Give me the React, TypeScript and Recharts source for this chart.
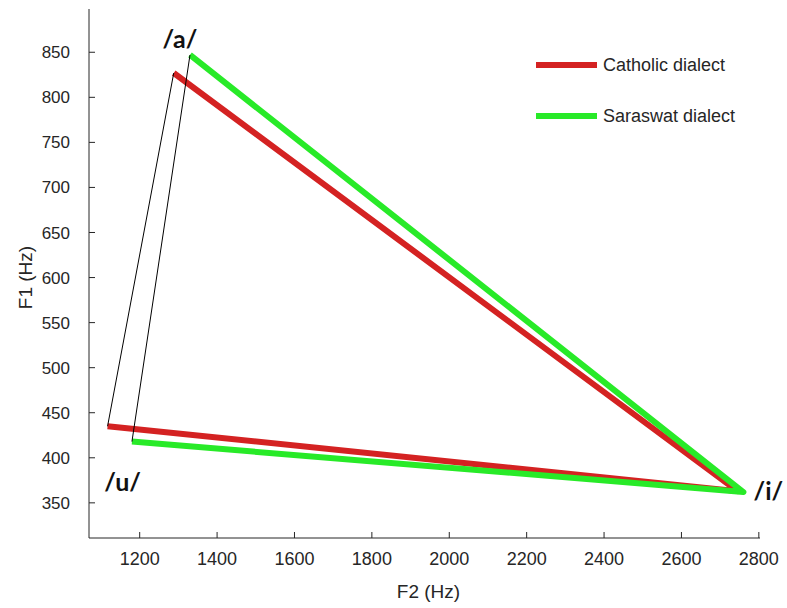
import React from 'react'
import { Label, Legend, Line, LineChart, ReferenceDot, XAxis, YAxis } from 'recharts'

const FONT = '"Liberation Sans", Arial, sans-serif'
const INK = '#262626'
const TICK_LEN = 6
const X_TICK_GAP = 14
const Y_TICK_GAP = 19

// corner vowels of the triangle, in drawing order
const vowels = ['/a/', '/i/', '/u/']

// formant means (Hz) per dialect, same order as vowels
const catholicF2 = [1288, 2745, 1117]
const catholicF1 = [827, 363, 435]
const saraswatF2 = [1330, 2760, 1180]
const saraswatF1 = [847, 362, 418]

const dialects = ['Catholic dialect', 'Saraswat dialect']
const dialectColors = ['#d42222', '#28ea28']

const f2Ticks = [1200, 1400, 1600, 1800, 2000, 2200, 2400, 2600, 2800]
const f1Ticks = [350, 400, 450, 500, 550, 600, 650, 700, 750, 800, 850]

const toPoints = (f2: number[], f1: number[], order: number[]) =>
  order.map((i) => ({ vowel: vowels[i], f2: f2[i], f1: f1[i] }))

// thick edges a -> i -> u, thin black edge u -> a closes the triangle
const catholicEdges = toPoints(catholicF2, catholicF1, [0, 1, 2])
const saraswatEdges = toPoints(saraswatF2, saraswatF1, [0, 1, 2])
const catholicClose = toPoints(catholicF2, catholicF1, [2, 0])
const saraswatClose = toPoints(saraswatF2, saraswatF1, [2, 0])

// matlab-style ticks: short marks pointing into the plot
const F2Tick = ({ x, y, payload }: any) => (
  <g>
    <line x1={x} x2={x} y1={y - X_TICK_GAP} y2={y - X_TICK_GAP - TICK_LEN} stroke={INK} />
    <text x={x} y={y} dy="0.71em" textAnchor="middle" fontFamily={FONT} fontSize={18} fill={INK}>
      {payload.value}
    </text>
  </g>
)

const F1Tick = ({ x, y, payload }: any) => (
  <g>
    <line x1={x + Y_TICK_GAP} x2={x + Y_TICK_GAP + TICK_LEN} y1={y} y2={y} stroke={INK} />
    <text x={x} y={y} dy="0.355em" textAnchor="end" fontFamily={FONT} fontSize={17} fill={INK}>
      {payload.value}
    </text>
  </g>
)

const DialectLegend = () => (
  <div style={{ fontFamily: FONT, fontSize: 18, color: INK }}>
    {dialects.map((name, i) => (
      <div
        key={name}
        style={{ display: 'flex', alignItems: 'center', height: 24, marginBottom: i === 0 ? 27 : 0 }}
      >
        <span style={{ display: 'inline-block', width: 61, height: 6, background: dialectColors[i], marginRight: 6 }} />
        {name}
      </div>
    ))}
  </div>
)

const vowelMark = (text: string, dx: number, dy: number) => (props: any) => {
  const { viewBox } = props
  const x = viewBox.x + viewBox.width / 2 + dx
  const y = viewBox.y + viewBox.height / 2 + dy
  return (
    <text
      x={x}
      y={y}
      textAnchor="middle"
      dominantBaseline="central"
      fontFamily="Lato, 'Open Sans', sans-serif"
      fontWeight={700}
      fontSize={25}
      fill="#111"
    >
      {text}
    </text>
  )
}

export default function App() {
  return (
    <div style={{ position: 'absolute', left: 0, top: 0, width: 787, height: 608, background: '#fff' }}>
      <LineChart width={787} height={608} margin={{ top: 9, right: 27, left: 0, bottom: 0 }}>
        <XAxis
          type="number"
          dataKey="f2"
          domain={[1069, 2803]}
          ticks={f2Ticks}
          allowDataOverflow
          height={70}
          tickSize={0}
          tickMargin={X_TICK_GAP}
          tickLine={false}
          stroke={INK}
          tick={<F2Tick />}
        >
          <Label
            content={({ viewBox }: any) => (
              <text
                x={viewBox.x + viewBox.width / 2 + 4}
                y={viewBox.y + 60}
                textAnchor="middle"
                fontFamily={FONT}
                fontSize={19}
                fill={INK}
              >
                F2 (Hz)
              </text>
            )}
          />
        </XAxis>
        <YAxis
          type="number"
          dataKey="f1"
          domain={[311, 898]}
          ticks={f1Ticks}
          allowDataOverflow
          width={89}
          tickSize={0}
          tickMargin={Y_TICK_GAP}
          tickLine={false}
          stroke={INK}
          tick={<F1Tick />}
        >
          <Label
            content={({ viewBox }: any) => {
              const cx = viewBox.x + 25
              const cy = viewBox.y + viewBox.height / 2 + 4
              return (
                <text
                  x={cx}
                  y={cy}
                  transform={`rotate(-90 ${cx} ${cy})`}
                  textAnchor="middle"
                  dominantBaseline="central"
                  fontFamily={FONT}
                  fontSize={19}
                  fill={INK}
                >
                  F1 (Hz)
                </text>
              )
            }}
          />
        </YAxis>
        <Legend
          layout="vertical"
          align="center"
          verticalAlign="middle"
          content={<DialectLegend />}
          wrapperStyle={{ position: 'absolute', left: 536, top: 53, width: 'auto' }}
        />
        <Line
          data={catholicEdges}
          dataKey="f1"
          name={dialects[0]}
          stroke={dialectColors[0]}
          strokeWidth={6}
          strokeLinejoin="round"
          dot={false}
          isAnimationActive={false}
        />
        <Line
          data={saraswatEdges}
          dataKey="f1"
          name={dialects[1]}
          stroke={dialectColors[1]}
          strokeWidth={6}
          strokeLinejoin="round"
          dot={false}
          isAnimationActive={false}
        />
        <Line
          data={catholicClose}
          dataKey="f1"
          legendType="none"
          stroke="#000"
          strokeWidth={1}
          dot={false}
          isAnimationActive={false}
        />
        <Line
          data={saraswatClose}
          dataKey="f1"
          legendType="none"
          stroke="#000"
          strokeWidth={1}
          dot={false}
          isAnimationActive={false}
        />
        <ReferenceDot x={saraswatF2[0]} y={saraswatF1[0]} r={0} fill="none" stroke="none" label={{ content: vowelMark(vowels[0], -10, -17) }} />
        <ReferenceDot x={saraswatF2[1]} y={saraswatF1[1]} r={0} fill="none" stroke="none" label={{ content: vowelMark(vowels[1], 25, -2) }} />
        <ReferenceDot x={catholicF2[2]} y={catholicF1[2]} r={0} fill="none" stroke="none" label={{ content: vowelMark(vowels[2], 15, 55) }} />
      </LineChart>
    </div>
  )
}
